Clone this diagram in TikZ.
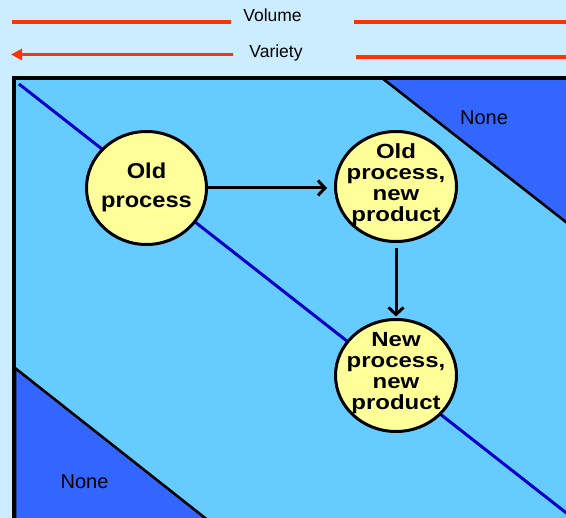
\documentclass[tikz,border=0pt]{standalone}
\usepackage{fontspec}
\setmainfont{Liberation Sans}
\newfontfamily\bubblefont{Liberation Sans}[FakeStretch=1.17]
\newfontfamily\wideoldfont{Liberation Sans}[FakeStretch=1.10]
\usetikzlibrary{arrows.meta,shapes.geometric}

\definecolor{skybg}{HTML}{CCECFF}
\definecolor{fieldblue}{HTML}{66CCFF}
\definecolor{deepblue}{HTML}{3366FF}
\definecolor{diagblue}{HTML}{0000CC}
\definecolor{bubblefill}{HTML}{FFFF99}
\definecolor{axisred}{HTML}{FF3300}

\begin{document}
\begin{tikzpicture}[x=1bp,y=-1bp,
  bubble/.style={ellipse,draw=black,line width=3bp,fill=bubblefill,inner sep=0pt},
  bubbletext/.style={align=center,inner sep=0pt,
    font={\bubblefont\bfseries\fontsize{20.5bp}{21bp}\selectfont}},
  flow/.style={line width=3bp,-{Straight Barb[length=7bp,width=15bp]}},
  axisline/.style={line width=3.6bp,draw=axisred},
  axistip/.tip={Triangle[length=11bp,width=11bp]},
  axislabel/.style={anchor=base,inner sep=0pt,font=\fontsize{17.5bp}{20bp}\selectfont},
  nonelabel/.style={anchor=base,inner sep=0pt,font=\fontsize{20bp}{24bp}\selectfont},
  wedge/.style={fill=deepblue,draw=black,line width=2.6bp,line join=miter}]

  % page and backdrop
  \useasboundingbox (0,0) rectangle (566,518);
  \clip (0,0) rectangle (566,518);
  \fill[skybg] (0,0) rectangle (566,518);

  % volume / variety axes
  \coordinate (vol-a) at (12,22);
  \coordinate (vol-b) at (231,22);
  \coordinate (vol-c) at (354,22);
  \coordinate (vol-d) at (578,22);
  \coordinate (var-a) at (11,54.5);
  \coordinate (var-b) at (233,54.5);
  \coordinate (var-c) at (356,57);
  \coordinate (var-d) at (600,57);
  \draw[axisline] (vol-a) -- (vol-b);
  \draw[axisline,-axistip] (vol-c) -- (vol-d);
  \draw[axisline,axistip-] (var-a) -- (var-b);
  \draw[axisline] (var-c) -- (var-d);
  \node[axislabel] (vol) at (272.5,21.5) {Volume};
  \node[axislabel] (var) at (276,58) {Variety};

  % process/product field
  \fill[fieldblue] (14,78) rectangle (620,620);
  \draw[wedge] (382,78) -- (620,78) -- (620,264.4) -- cycle;
  \draw[wedge] (15,368) -- (233,540) -- (15,540) -- cycle;
  \draw[diagblue,line width=3bp] (19,84) -- (620,555);
  \draw[line width=3.6bp,line join=miter] (620,78) -- (14,78) -- (14,620);
  \node[nonelabel] (none-top) at (484,125) {None};
  \node[nonelabel] (none-bottom) at (84.5,488) {None};

  % bubbles
  \node[bubble,minimum width=120bp,minimum height=113bp] (c1) at (146.5,188) {};
  \node[bubble,minimum width=121bp,minimum height=110bp] (c2) at (396,186.5) {};
  \node[bubble,minimum width=121bp,minimum height=112bp] (c3) at (396,375.5) {};

  \node[bubbletext,font={\wideoldfont\bfseries\fontsize{21.5bp}{29bp}\selectfont}]
    (c1-text) at (146.5,187) {Old\\process};
  \node[bubbletext] (c2-text) at (396,184.5) {Old\\process,\\new\\product};
  \node[bubbletext] (c3-text) at (396,373.5) {New\\process,\\new\\product};

  % transitions
  \draw[flow] (c1.east) -- ([xshift=-7bp]c1.east -| c2.west);
  \draw[flow] ([yshift=-5bp]c2.south) -- ([yshift=1.5bp]c3.north);
\end{tikzpicture}
\end{document}
